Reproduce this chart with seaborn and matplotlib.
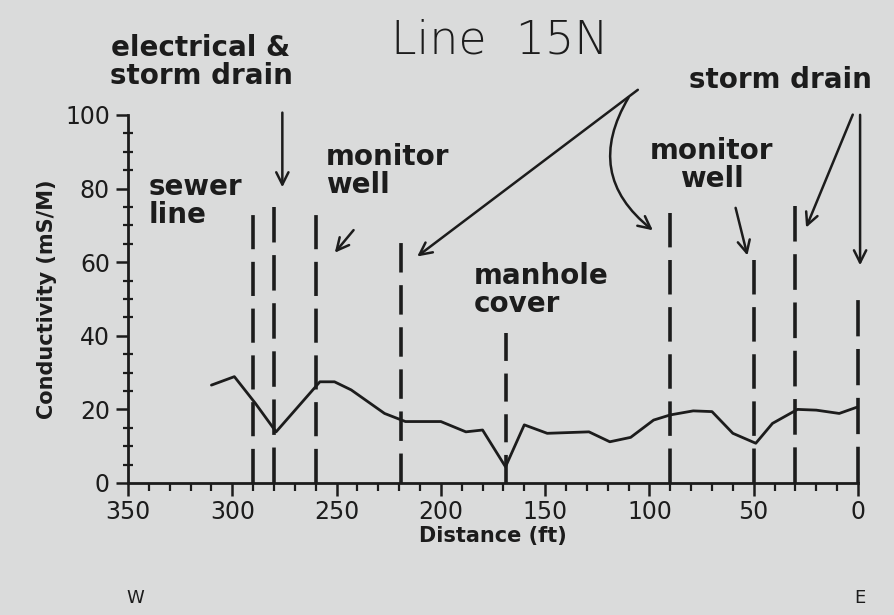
import seaborn as sns
import pandas as pd
import matplotlib
matplotlib.use('Agg')
import matplotlib.pyplot as plt
from matplotlib.ticker import MultipleLocator

# conductivity profile
dist = [310, 299, 289, 279, 258, 251, 243, 227, 217, 200, 188, 180, 169, 160,
        149, 129, 119, 109, 98, 90, 79, 70, 60, 49, 41, 29, 20, 9, 0]
cond = [26.6, 28.9, 21.7, 13.9, 27.5, 27.5, 25.3, 18.9, 16.7, 16.7, 13.9, 14.4,
        4.4, 15.8, 13.5, 13.9, 11.2, 12.4, 17.1, 18.5, 19.6, 19.4, 13.5, 10.8,
        16.2, 20.0, 19.8, 18.9, 20.7]

# dashed feature markers (position, top of dashed line)
marker_x = [290, 280, 260, 219, 169, 90, 50, 30, 0]
marker_top = [72.8, 75.0, 72.8, 65.2, 40.8, 73.4, 60.6, 75.3, 49.7]

bg = '#dadbdb'
ink = '#1c1c1c'

if __name__ == '__main__':
    sns.set_style('ticks')
    plt.rcParams['font.family'] = ['DejaVu Sans']

    fig = plt.figure(figsize=(8.95, 6.15), dpi=100, facecolor=bg)
    ax = fig.add_axes([128 / 895, 1 - 483 / 615, 730 / 895, 368 / 615])
    ax.set_facecolor(bg)

    df = pd.DataFrame({'dist': dist, 'cond': cond})
    sns.lineplot(data=df, x='dist', y='cond', ax=ax, color=ink, lw=2.0,
                 estimator=None)

    # stretch the dash a little per line so it starts and ends on a full dash
    lw_dash, gap = 2.6, 3.5
    pt_per_unit = 368 / 100 * 72 / 100
    for x, top in zip(marker_x, marker_top):
        length = top * pt_per_unit / lw_dash
        n = max(1, round((length + gap) / 12.5))
        dash = (length + gap) / n - gap
        ax.plot([x, x], [0, top], color=ink, lw=lw_dash,
                linestyle=(0, (dash, gap)), dash_capstyle='butt',
                clip_on=False)

    ax.set_xlim(350, 0)
    ax.set_ylim(0, 100)
    sns.despine(ax=ax)
    for s in ['left', 'bottom']:
        ax.spines[s].set_color(ink)
        ax.spines[s].set_linewidth(2)

    ax.xaxis.set_major_locator(MultipleLocator(50))
    ax.xaxis.set_minor_locator(MultipleLocator(10))
    ax.yaxis.set_major_locator(MultipleLocator(20))
    ax.yaxis.set_minor_locator(MultipleLocator(5))
    ax.tick_params(axis='both', which='major', length=9, width=1.8,
                   color=ink, labelcolor=ink, labelsize=17, direction='out')
    ax.tick_params(axis='x', which='minor', length=6, width=1.6, color=ink,
                   direction='out')
    ax.tick_params(axis='y', which='minor', length=7, width=1.6, color=ink,
                   direction='inout')
    ax.tick_params(axis='x', which='major', pad=3)
    ax.tick_params(axis='y', which='major', pad=4)

    ax.set_xlabel('Distance (ft)', fontsize=15, fontweight='bold', color=ink,
                  labelpad=2)
    ax.set_ylabel('Conductivity (mS/M)', fontsize=15, fontweight='bold',
                  color=ink, labelpad=6)

    fig.text(500 / 895, 1 - 40 / 615, 'Line  15N', fontsize=33, color=ink,
             ha='center', va='center', fontweight='light')

    lab = dict(fontsize=20, fontweight='bold', color=ink,
               annotation_clip=False)
    arr = dict(arrowstyle='->', color=ink, lw=1.8, mutation_scale=22)

    ax.annotate('electrical &\nstorm drain', xy=(315, 114.5), ha='center',
                va='center', linespacing=1.0, **lab)
    ax.annotate('', xy=(276, 79.6), xytext=(276, 101.4), arrowprops=arr,
                annotation_clip=False)

    ax.annotate('sewer\nline', xy=(340, 76.5), ha='left', va='center',
                linespacing=1.0, **lab)
    ax.annotate('monitor\nwell', xy=(255, 84.8), ha='left', va='center',
                linespacing=1.0, **lab)
    ax.annotate('', xy=(251.7, 62), xytext=(241, 69.3), arrowprops=arr,
                annotation_clip=False)

    ax.annotate('manhole\ncover', xy=(184, 52.4), ha='left', va='center',
                linespacing=1.0, **lab)

    ax.annotate('storm drain', xy=(37.4, 109.5), ha='center', va='center',
                **lab)
    ax.annotate('', xy=(212.4, 61.1), xytext=(104.5, 107.3), arrowprops=arr,
                annotation_clip=False)
    ax.annotate('', xy=(97.3, 68.2), xytext=(109.3, 105.4),
                arrowprops=dict(arr, connectionstyle='arc3,rad=0.45'),
                annotation_clip=False)
    ax.annotate('', xy=(25.4, 68.7), xytext=(2, 100.8), arrowprops=arr,
                annotation_clip=False)
    ax.annotate('', xy=(-1, 58.4), xytext=(-1, 100.8), arrowprops=arr,
                annotation_clip=False)

    ax.annotate('monitor\nwell', xy=(70, 86.4), ha='center', va='center',
                linespacing=1.0, **lab)
    ax.annotate('', xy=(52.7, 61.1), xytext=(59, 75.5), arrowprops=arr,
                annotation_clip=False)

    fig.text(135 / 895, 1 - 598 / 615, 'W', fontsize=13, color=ink,
             ha='center', va='center')
    fig.text(860 / 895, 1 - 598 / 615, 'E', fontsize=13, color=ink,
             ha='center', va='center')

    plt.savefig('out.png', dpi=100, facecolor=bg)
